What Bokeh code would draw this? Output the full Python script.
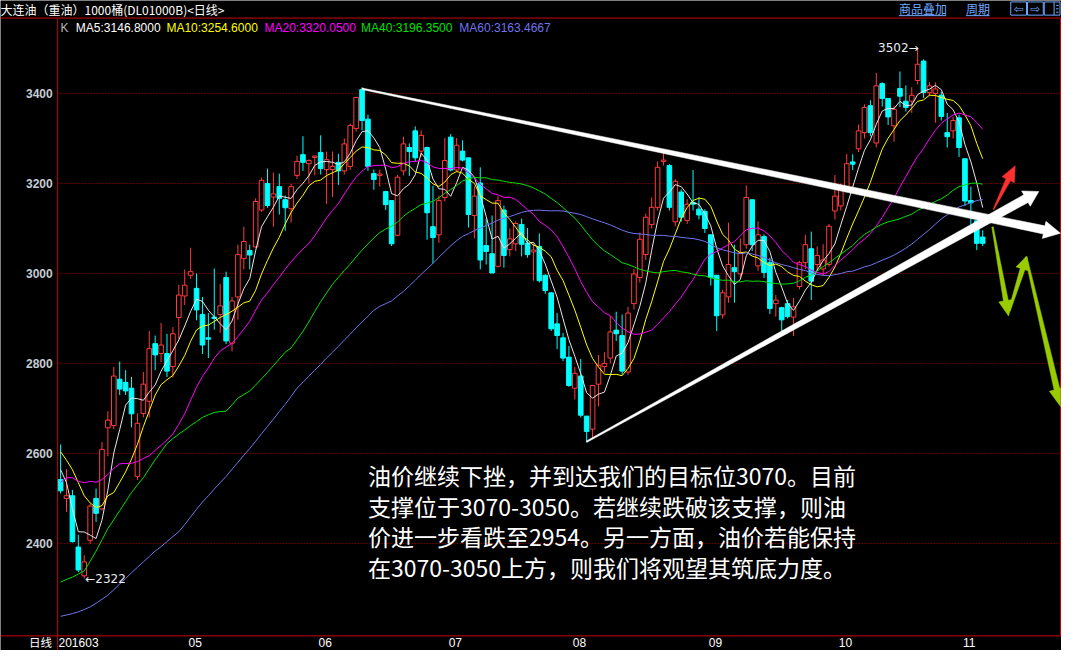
import math
from bokeh.plotting import figure
from bokeh.models import Range1d, ColumnDataSource
from bokeh.core.properties import value
from bokeh.embed import file_html
from bokeh.resources import INLINE

# ---------------- data ----------------
opens = [2542, 2500, 2506, 2392, 2328, 2407, 2500, 2477, 2657, 2662,
         2765, 2758, 2745, 2549, 2689, 2716, 2844, 2822, 2822, 2793,
         2902, 2950, 2996, 2967, 2909, 2857, 2903, 2909, 2991, 2845,
         2948, 3033, 3051, 3059, 3141, 3200, 3170, 3193, 3164, 3144,
         3218, 3264, 3244, 3258, 3269, 3231, 3231, 3247, 3228, 3238,
         3322, 3409, 3343, 3222, 3218, 3182, 3162, 3085, 3228, 3280,
         3317, 3272, 3280, 3104, 3086, 3169, 3303, 3230, 3272, 3257,
         3129, 3201, 3062, 3044, 3016, 3141, 3053, 3066, 3109, 3067,
         3048, 3060, 2996, 2957, 2888, 2857, 2814, 2745, 2772, 2683,
         2654, 2754, 2793, 2812, 2874, 2862, 2781, 2933, 2991, 3042,
         3109, 3147, 3249, 3240, 3115, 3181, 3118, 3158, 3143, 3138,
         3086, 2996, 2908, 2948, 3013, 2999, 3064, 3164, 3017, 3082,
         3024, 2933, 2924, 2933, 2903, 2971, 3024, 3055, 3020, 3010,
         3020, 3139, 3150, 3193, 3248, 3277, 3313, 3373, 3290, 3422,
         3389, 3328, 3411, 3383, 3383, 3429, 3472, 3402, 3400, 3396,
         3313, 3317, 3346, 3255, 3162, 3117, 3081]
highs = [2620, 2565, 2519, 2419, 2374, 2488, 2522, 2625, 2694, 2792,
         2804, 2785, 2770, 2689, 2781, 2872, 2862, 2890, 2866, 2881,
         2975, 3009, 3057, 3000, 2948, 2912, 3011, 2977, 3004, 2948,
         3064, 3104, 3064, 3167, 3213, 3233, 3224, 3222, 3173, 3199,
         3262, 3305, 3254, 3262, 3307, 3271, 3271, 3266, 3300, 3333,
         3393, 3414, 3353, 3231, 3231, 3184, 3162, 3219, 3304, 3289,
         3327, 3318, 3282, 3195, 3173, 3301, 3310, 3301, 3296, 3257,
         3194, 3236, 3122, 3129, 3172, 3151, 3100, 3116, 3122, 3101,
         3067, 3089, 2998, 2959, 2912, 2868, 2839, 2792, 2810, 2683,
         2752, 2819, 2825, 2906, 2915, 2909, 2926, 3010, 3091, 3133,
         3169, 3249, 3267, 3243, 3210, 3187, 3165, 3230, 3169, 3143,
         3086, 2996, 2964, 3113, 3064, 3078, 3196, 3164, 3116, 3087,
         3035, 2952, 2926, 2941, 2946, 3028, 3086, 3093, 3060, 3065,
         3110, 3219, 3200, 3266, 3265, 3331, 3376, 3385, 3446, 3425,
         3389, 3373, 3449, 3418, 3414, 3502, 3476, 3425, 3425, 3404,
         3357, 3349, 3353, 3255, 3193, 3117, 3096]
lows = [2511, 2470, 2402, 2336, 2322, 2399, 2448, 2473, 2594, 2654,
        2730, 2730, 2658, 2541, 2680, 2680, 2785, 2803, 2770, 2769,
        2854, 2930, 2988, 2896, 2821, 2812, 2875, 2868, 2843, 2827,
        2897, 3009, 3009, 3057, 3137, 3146, 3104, 3131, 3095, 3113,
        3210, 3228, 3200, 3218, 3220, 3155, 3170, 3197, 3220, 3230,
        3315, 3318, 3228, 3186, 3193, 3141, 3061, 3083, 3218, 3217,
        3250, 3260, 3075, 3022, 3068, 3160, 3227, 3225, 3249, 3102,
        3078, 3009, 3020, 3001, 3013, 3013, 3038, 3050, 3038, 3035,
        2984, 2980, 2955, 2872, 2832, 2805, 2748, 2720, 2680, 2624,
        2633, 2705, 2780, 2801, 2850, 2775, 2775, 2920, 2980, 3030,
        3100, 3140, 3240, 3140, 3105, 3115, 3110, 3140, 3120, 3090,
        2973, 2872, 2900, 2935, 2935, 2990, 3055, 3050, 3006, 2990,
        2910, 2904, 2872, 2900, 2861, 2965, 3010, 2941, 3005, 2995,
        3015, 3120, 3140, 3185, 3230, 3270, 3300, 3305, 3280, 3371,
        3330, 3293, 3370, 3360, 3357, 3420, 3390, 3395, 3335, 3340,
        3280, 3300, 3259, 3150, 3100, 3052, 3061]
closes = [2517, 2506, 2404, 2341, 2359, 2483, 2467, 2609, 2674, 2772,
          2743, 2739, 2688, 2667, 2754, 2833, 2819, 2841, 2783, 2866,
          2952, 2974, 3004, 2919, 2841, 2854, 2900, 2928, 2850, 2939,
          3042, 3071, 3041, 3160, 3207, 3151, 3177, 3167, 3146, 3193,
          3249, 3247, 3251, 3261, 3233, 3253, 3238, 3228, 3288, 3329,
          3391, 3340, 3238, 3209, 3221, 3153, 3066, 3214, 3288, 3271,
          3257, 3307, 3135, 3080, 3162, 3251, 3230, 3285, 3252, 3131,
          3172, 3030, 3049, 3001, 3162, 3040, 3077, 3111, 3065, 3042,
          3052, 2984, 2962, 2877, 2862, 2812, 2751, 2778, 2685, 2649,
          2751, 2796, 2800, 2870, 2866, 2783, 2912, 2999, 3076, 3125,
          3147, 3236, 3252, 3147, 3205, 3125, 3154, 3154, 3130, 3100,
          2991, 2906, 2957, 3020, 3004, 3046, 3169, 3064, 3086, 3002,
          2922, 2941, 2897, 2904, 2926, 3024, 3064, 2983, 3040, 3030,
          3105, 3172, 3195, 3244, 3243, 3317, 3369, 3313, 3417, 3389,
          3348, 3365, 3394, 3369, 3396, 3465, 3402, 3417, 3410, 3349,
          3304, 3340, 3280, 3161, 3157, 3067, 3067]

# moving-average values before a full window exists
ma5_head = [2564, 2535, 2477, 2426]
ma10_head = [2604, 2585, 2564, 2535, 2506, 2490, 2480, 2484, 2506]
ma20_head = [2536, 2546, 2546, 2538, 2535, 2538, 2536, 2542, 2553, 2567,
             2577, 2578, 2578, 2582, 2589, 2595, 2607, 2618, 2630]
ma40_head = [2314, 2320, 2325, 2332, 2339, 2360, 2383, 2408, 2433, 2453,
             2473, 2493, 2513, 2530, 2546, 2566, 2586, 2604, 2622, 2633,
             2643, 2652, 2662, 2671, 2680, 2686, 2691, 2693, 2694, 2708,
             2723, 2731, 2739, 2752, 2766, 2780, 2795, 2810, 2825]
ma60_head = [2238, 2241, 2244, 2248, 2253, 2259, 2267, 2276, 2285, 2297,
             2310, 2322, 2335, 2347, 2359, 2371, 2383, 2393, 2404, 2415,
             2426, 2442, 2459, 2476, 2492, 2506, 2521, 2535, 2549, 2565,
             2580, 2596, 2611, 2627, 2644, 2660, 2676, 2693, 2709, 2727,
             2745, 2758, 2772, 2785, 2798, 2812, 2825, 2838, 2852, 2865,
             2879, 2892, 2905, 2918, 2927, 2933, 2939, 2950, 2960]

ma_names = ["MA5", "MA10", "MA20", "MA40", "MA60"]
ma_last = ["3146.8000", "3254.6000", "3320.0500", "3196.3500", "3163.4667"]

tick_idx = [0, 22, 44, 66, 87, 110, 132, 153]
tick_labels = ["201603", "05", "06", "07", "08", "09", "10", "11"]
price_ticks = [2400, 2600, 2800, 3000, 3200, 3400]

low_mark = "2322"
high_mark = "3502"
title_text = "大连油（重油）1000桶(DL01000B)<日线>"
period_text = "日线"
link_texts = ["商品叠加", "周期"]
note_lines = ["油价继续下挫，并到达我们的目标位3070。目前",
              "支撑位于3070-3050。若继续跌破该支撑，则油",
              "价进一步看跌至2954。另一方面，油价若能保持",
              "在3070-3050上方，则我们将观望其筑底力度。"]


def moving_average(vals, n, head):
    out = list(head)
    for i in range(n - 1, len(vals)):
        out.append(sum(vals[i - n + 1:i + 1]) / n)
    return out


# ---------------- geometry ----------------
W, H = 1061, 650
RED = "#cc0000"
UP = "#ff3b3b"
DOWN = "#00ffff"
MA_COLORS = ["#e6e6e6", "#ffff00", "#ff00ff", "#00e000", "#6f74ee"]
LEG_COLORS = ["#ffffff", "#ffff00", "#ff00ff", "#00e000", "#6f74ee"]
LINK = "#6fa8ff"


def ix(px):  # reference-picture x pixel -> candle index
    return (px - 61.0) / 6.0


def vy(py):  # reference-picture y pixel -> price
    return 3400.0 - (py - 95.3) * 1000.0 / 461.0


PL, PR = ix(58), ix(1076)      # plot-area bounds (index units)
PT, PB = vy(18), vy(651)       # plot-area bounds (price units)

p = figure(width=W, height=H, output_backend="svg", toolbar_location=None,
           x_range=Range1d(ix(0), ix(1077)), y_range=Range1d(vy(666), vy(0)),
           min_border=0, background_fill_color="black", border_fill_color="black",
           outline_line_color=None)
p.axis.visible = False
p.grid.visible = False

# dotted grid lines + frame lines
p.segment(x0=[PL] * len(price_ticks), y0=price_ticks, x1=[PR] * len(price_ticks), y1=price_ticks,
          line_color="#c00000", line_width=1, line_dash="1 2")
p.segment(x0=[ix(0), ix(0), PL, PR], y0=[PT, PB, PT, PT],
          x1=[ix(1077), ix(1077), PL, PR], y1=[PT, PB, vy(666), PB],
          line_color=RED, line_width=1)

# axis labels
p.text(x=[ix(53)] * len(price_ticks), y=price_ticks, text=[str(t) for t in price_ticks],
       text_color="#c4ccd4", text_font=value("Liberation Sans"), text_font_style="bold",
       text_font_size="12px", text_align="right", text_baseline="middle")
p.text(x=[t - 0.35 for t in tick_idx], y=[vy(657.5)] * len(tick_idx), text=tick_labels,
       text_color="white", text_font=value("Liberation Sans"), text_font_size="12px",
       text_align="left", text_baseline="middle")
p.text(x=[ix(29)], y=[vy(657)], text=[period_text], text_color="white",
       text_font=value("Noto Sans CJK SC"), text_font_size="11.5px", text_align="left", text_baseline="middle")

# ---------------- candles ----------------
idx = list(range(len(closes)))
is_up = [c >= o for o, c in zip(opens, closes)]
src = ColumnDataSource(dict(
    x=idx, h=highs, l=lows,
    top=[max(o, c) for o, c in zip(opens, closes)],
    bottom=[min(o, c) for o, c in zip(opens, closes)],
    color=[UP if u else DOWN for u in is_up],
    fill=["black" if u else DOWN for u in is_up],
))
p.segment(x0="x", y0="h", x1="x", y1="l", line_color="color", line_width=1, source=src)
p.vbar(x="x", width=0.78, top="top", bottom="bottom", fill_color="fill",
       line_color="color", line_width=1, source=src)

# ---------------- moving averages ----------------
mas = [moving_average(closes, 5, ma5_head), moving_average(closes, 10, ma10_head),
       moving_average(closes, 20, ma20_head), moving_average(closes, 40, ma40_head),
       moving_average(closes, 60, ma60_head)]
for m, col in zip(mas, MA_COLORS):
    p.line(idx, m, line_color=col, line_width=1)


# ---------------- arrows (reference-pixel geometry) ----------------
def tapered_arrow(x0, y0, x1, y1, w0, w1, head_len, head_half):
    dx, dy = x1 - x0, y1 - y0
    L = math.hypot(dx, dy)
    ux, uy = dx / L, dy / L
    nx, ny = -uy, ux
    bx, by = x1 - ux * head_len, y1 - uy * head_len
    pts = [(x0 + nx * w0 / 2, y0 + ny * w0 / 2),
           (bx + nx * w1 / 2, by + ny * w1 / 2),
           (bx + nx * head_half, by + ny * head_half),
           (x1, y1),
           (bx - nx * head_half, by - ny * head_half),
           (bx - nx * w1 / 2, by - ny * w1 / 2),
           (x0 - nx * w0 / 2, y0 - ny * w0 / 2)]
    return [ix(min(a, 1076)) for a, b in pts], [vy(b) for a, b in pts]


white_arrows = [(367, 90.5, 1076, 238.5, 1.5, 8.5, 17, 9),
                (595, 452, 1054, 195.7, 1.5, 9, 15, 9)]
red_arrows = [(1008, 214, 1030, 169.3, 1, 5, 16, 7)]
green_arrows = [(1007, 232, 1023.3, 323.3, 1.5, 5, 16, 7.3),
                (1024, 318, 1041.7, 261.7, 2, 5, 14, 7),
                (1041, 263, 1076.5, 416, 2, 6, 18, 8)]
for group, col in ((white_arrows, "white"), (red_arrows, "#ff3030"), (green_arrows, "#99cc00")):
    for a in group:
        xs, ys = tapered_arrow(*a)
        p.patch(xs, ys, fill_color=col, line_color=col, line_width=0.5)

# ---------------- texts inside the chart ----------------
p.text(x=[ix(86)], y=[vy(592.5)], text=["\u2190" + low_mark], text_color="#e8eef4",
       text_font=value("DejaVu Sans"), text_font_size="12px", text_baseline="middle", text_align="left")
p.text(x=[ix(932)], y=[vy(48.5)], text=[high_mark + "\u2192"], text_color="#e8eef4",
       text_font=value("DejaVu Sans"), text_font_size="12px", text_baseline="middle", text_align="right")

leg_x = [61, 76.5, 168.4, 268, 366, 465.7]
leg_src = ColumnDataSource(dict(
    x=[ix(v) for v in leg_x], y=[vy(28)] * 6,
    text=["K"] + [f"{n}:{v}" for n, v in zip(ma_names, ma_last)],
    color=["#b8b8b8"] + LEG_COLORS))
p.text(x="x", y="y", text="text", text_color="color", source=leg_src,
       text_font=value("Liberation Sans"), text_font_size="12px", text_baseline="middle", text_align="left")

note_y = [486, 518, 549, 580]
p.text(x=[ix(373)] * 4, y=[vy(v) for v in note_y], text=note_lines, text_color="white",
       text_font=value("Noto Sans CJK SC"), text_font_size="23px",
       text_baseline="middle", text_align="left")

# ---------------- header row ----------------
p.text(x=[ix(0)], y=[vy(9)], text=[title_text], text_color="white",
       text_font=value("Noto Sans CJK SC"), text_font_size="12px", text_baseline="middle", text_align="left")
p.text(x=[ix(912), ix(980)], y=[vy(8.5)] * 2, text=link_texts, text_color=LINK,
       text_font=value("Noto Sans CJK SC"), text_font_size="12px", text_baseline="middle", text_align="left")
p.segment(x0=[ix(912), ix(980)], y0=[vy(15.5)] * 2, x1=[ix(960), ix(1004)], y1=[vy(15.5)] * 2,
          line_color=LINK, line_width=1)
# navigation icons
icon_l = [1025.5, 1042.5, 1059.5]
icon_r = [1041.5, 1058.5, 1075.5]
p.quad(left=[ix(v) for v in icon_l], right=[ix(v) for v in icon_r], top=[vy(1.5)] * 3,
       bottom=[vy(15)] * 3, fill_color=None, line_color=LINK, line_width=1)
p.text(x=[ix(1033.5), ix(1050.5)], y=[vy(8.5)] * 2, text=["\u21e6", "\u21e8"], text_color=LINK,
       text_font=value("DejaVu Sans"), text_font_size="12px", text_baseline="middle", text_align="center")
p.segment(x0=[ix(1069.5)], y0=[vy(1.5)], x1=[ix(1069.5)], y1=[vy(15)], line_color=LINK, line_width=1)
p.segment(x0=[ix(1071.5)] * 3, y0=[vy(5), vy(8.5), vy(12)], x1=[ix(1074)] * 3,
          y1=[vy(5), vy(8.5), vy(12)], line_color=LINK, line_width=1)

open("out.html", "w").write(file_html(p, INLINE))
